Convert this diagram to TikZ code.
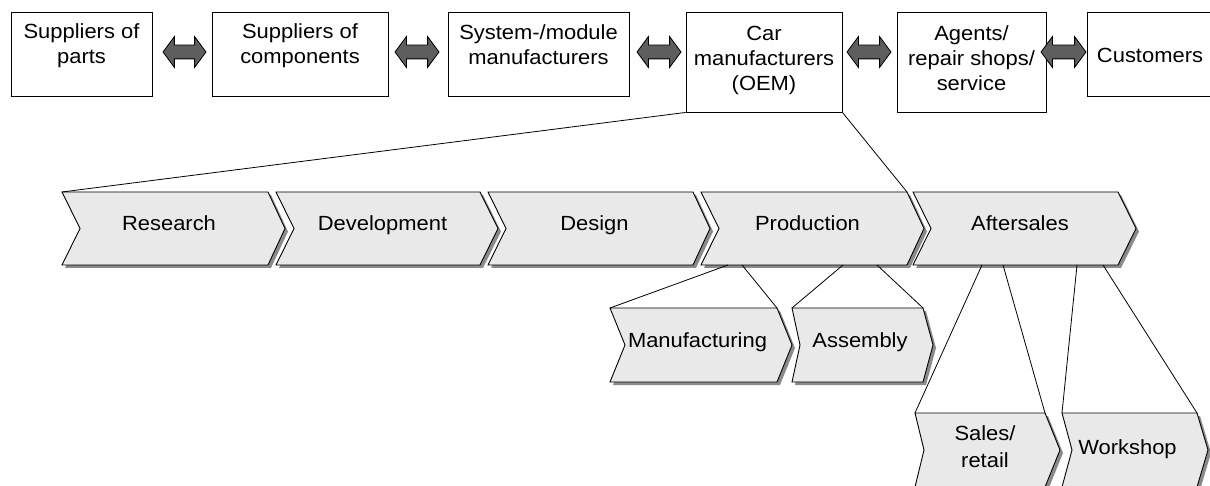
\documentclass[tikz,border=0pt]{standalone}
\usepackage{fontspec}
\setmainfont{Liberation Sans}[FakeStretch=1.07]
\usetikzlibrary{calc,shapes.arrows,shadows}

\definecolor{chevfill}{HTML}{E9E9E9}
\definecolor{chevshade}{HTML}{8A8A8A}
\definecolor{arrowfill}{HTML}{5E5E5E}

% outline of a chevron: left x, top y, right x, bottom y, notch depth, point depth
\newcommand\chevpath[6]{(#1,#2) -- (#3,#2) -- ({#3+#6},{(#2+#4)/2}) -- (#3,#4) -- (#1,#4) -- ({#1+#5},{(#2+#4)/2}) -- cycle}

% named chevron step: name, left, top, right, bottom, notch, point
\newcommand\chevron[7]{%
  \node[chevbody, minimum width={(#4-#2)*1pt}, minimum height={(#5-#3)*1pt}]
    (#1) at ({(#2+#4)/2},{(#3+#5)/2}) {};
  \begin{scope}[shift={(3,3)}]
    \fill[chevshade] \chevpath{#2}{#3}{#4}{#5}{#6}{#7};
  \end{scope}
  \filldraw[chevline] \chevpath{#2}{#3}{#4}{#5}{#6}{#7};
}

\begin{document}
\begin{tikzpicture}[x=1pt,y=-1pt,
  txt/.style={font=\fontsize{20.5pt}{25pt}\selectfont, inner sep=0pt, align=center},
  topbox/.style={draw=black, line width=0.9pt, fill=white, inner sep=0pt,
    drop shadow={shadow xshift=1.3pt, shadow yshift=-1.3pt, fill=black!60, opacity=1}},
  chevbody/.style={inner sep=0pt, outer sep=0pt},
  chevline/.style={draw=black, line width=0.9pt, fill=chevfill, line join=miter},
  dblarrow/.style={double arrow, draw=black, line width=0.8pt, fill=arrowfill,
    inner xsep=0pt, inner ysep=6.5pt, minimum width=30pt,
    double arrow head extend=8.5pt, double arrow tip angle=107},
  conn/.style={draw=black, line width=0.8pt}]

\useasboundingbox (0,0) rectangle (1210,486);

% value chain partners
\node[topbox, minimum width=141pt, minimum height=84pt]  (parts) at (81.5,54) {};
\node[topbox, minimum width=176pt, minimum height=84pt]  (comps) at (300,54) {};
\node[topbox, minimum width=181pt, minimum height=84pt]  (sysmod) at (538.5,54) {};
\node[topbox, minimum width=156pt, minimum height=100pt] (oem) at (764,62) {};
\node[topbox, minimum width=149pt, minimum height=100pt] (agents) at (971.5,62) {};
\node[topbox, minimum width=126pt, minimum height=84pt]  (cust) at (1150,54) {};

\node[txt, anchor=north] (parts-l)  at (81.5,23.6)  {Suppliers of\\parts};
\node[txt, anchor=north] (comps-l)  at (300,23.6)   {Suppliers of\\components};
\node[txt, anchor=north] (sysmod-l) at (538.5,24.3) {System-/module\\manufacturers};
\node[txt, anchor=north] (oem-l)    at (764,25.8)   {Car\\manufacturers\\(OEM)};
\node[txt, anchor=north] (agents-l) at (971.5,25.3) {Agents/\\repair shops/\\service};
\node[txt, anchor=base]  (cust-l)   at (1150,62.8)  {Customers};

% exchange between neighbouring partners
\node[dblarrow, minimum height=43pt] (ar1) at (184.5,52) {};
\node[dblarrow, minimum height=44pt] (ar2) at (417,52) {};
\node[dblarrow, minimum height=44pt] (ar3) at (659,52) {};
\node[dblarrow, minimum height=44pt] (ar4) at (869,52) {};
\node[dblarrow, minimum height=45pt] (ar5) at (1063.5,52) {};

% OEM process chain
\chevron{research}{62}{192}{268}{265}{18}{17}
\chevron{develop}{276}{192}{480}{265}{18}{18}
\chevron{design}{488}{192}{693}{265}{18}{17}
\chevron{production}{701}{192}{907}{265}{18}{17}
\chevron{aftersales}{913}{192}{1118}{265}{18}{18}

\node[txt, anchor=base] (research-l)   at (169,230.7)   {Research};
\node[txt, anchor=base] (develop-l)    at (382.5,230.7) {Development};
\node[txt, anchor=base] (design-l)     at (594.5,230.7) {Design};
\node[txt, anchor=base] (production-l) at (807.5,230.7) {Production};
\node[txt, anchor=base] (aftersales-l) at (1020,230.7)  {Aftersales};

% production sub-steps
\chevron{manuf}{610}{308}{777}{382}{15}{15}
\chevron{assembly}{792}{308}{923}{382}{8}{10}
\node[txt, anchor=base] (manuf-l)    at (697.5,347.3) {Manufacturing};
\node[txt, anchor=base] (assembly-l) at (860,347.3)   {Assembly};

% aftersales sub-steps
\chevron{sales}{915}{413}{1045}{487}{9}{15}
\chevron{workshop}{1062}{413}{1197}{487}{10}{11}
\node[txt, anchor=north, font=\fontsize{20.5pt}{27pt}\selectfont] (sales-l) at (985,425.3) {Sales/\\retail};
\node[txt, anchor=base] (workshop-l) at (1127.5,454) {Workshop};

% zoom-out lines
\draw[conn] (oem.south west) -- (research.north west);
\draw[conn] (oem.south east) -- (production.north east);
\draw[conn] ($(production.south west)+(27,0)$)  -- (manuf.north west);
\draw[conn] ($(production.south west)+(41,0)$)  -- (manuf.north east);
\draw[conn] ($(production.south west)+(142,0)$) -- (assembly.north west);
\draw[conn] ($(production.south west)+(176,0)$) -- (assembly.north east);
\draw[conn] ($(aftersales.south west)+(69,0)$)  -- (sales.north west);
\draw[conn] ($(aftersales.south west)+(90,0)$)  -- (sales.north east);
\draw[conn] ($(aftersales.south west)+(164,0)$) -- (workshop.north west);
\draw[conn] ($(aftersales.south west)+(190,0)$) -- (workshop.north east);

\end{tikzpicture}
\end{document}
